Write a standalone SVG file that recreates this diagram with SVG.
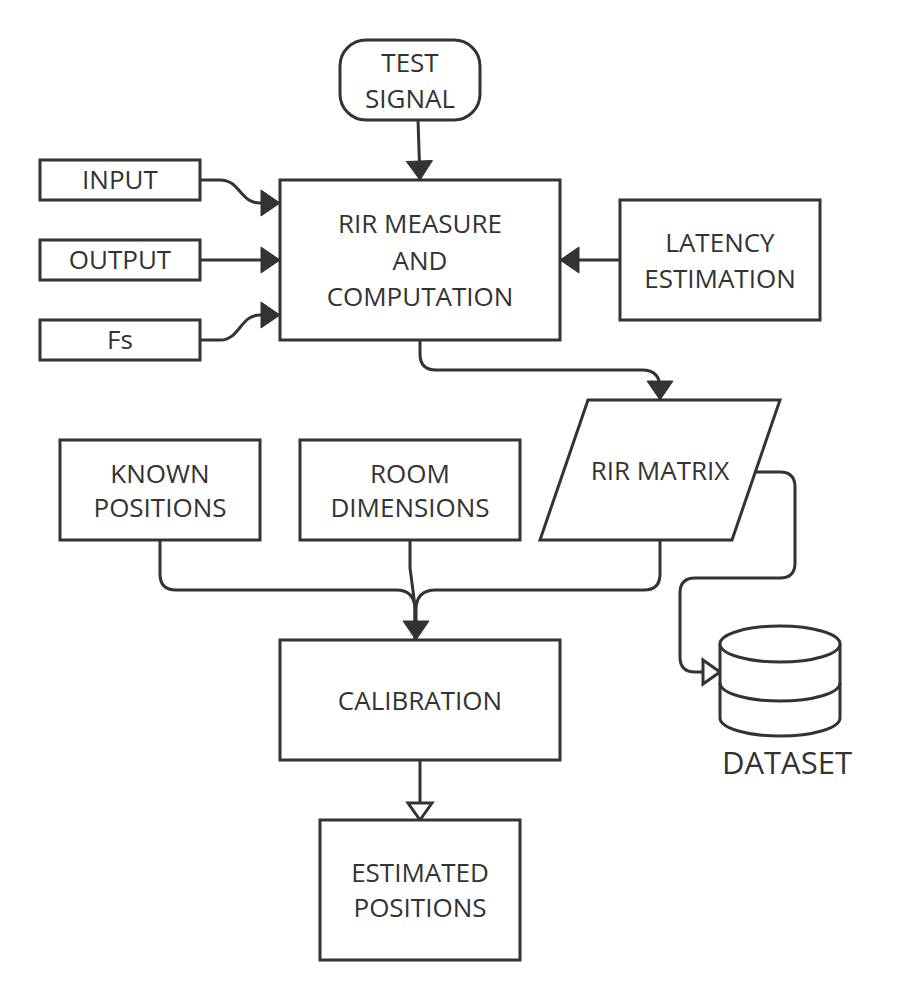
<svg xmlns="http://www.w3.org/2000/svg" width="920" height="1000" viewBox="0 0 920 1000">
<style>
.box{fill:#ffffff;stroke:#333333;stroke-width:3}
.ln{fill:none;stroke:#333333;stroke-width:3}
text{font-family:"Open Sans","Noto Sans","Liberation Sans",sans-serif;font-size:26px;fill:#333333;text-anchor:middle}
</style>
<defs>
<marker id="af" markerUnits="userSpaceOnUse" markerWidth="20" markerHeight="26" refX="19" refY="13" orient="auto" overflow="visible">
<path d="M0,0 L19,13 L0,26 Z" fill="#333333" stroke="#333333" stroke-width="1" stroke-linejoin="round"/>
</marker>
<marker id="ao" markerUnits="userSpaceOnUse" markerWidth="20" markerHeight="26" refX="17" refY="12" orient="auto" overflow="visible">
<path d="M0,0 L17,12 L0,24 Z" fill="#ffffff" stroke="#333333" stroke-width="3" stroke-linejoin="miter"/>
</marker>
</defs>
<rect width="920" height="1000" fill="#ffffff"/>

<g id="connectors">
<path class="ln" d="M200,180 H220 C240,180 240,203 260,203 H280" marker-end="url(#af)"/>
<path class="ln" d="M200,260 H280" marker-end="url(#af)"/>
<path class="ln" d="M200,340 H220 C240,340 240,315 260,315 H280" marker-end="url(#af)"/>
<path class="ln" d="M418,120 L420,180" marker-end="url(#af)"/>
<path class="ln" d="M620,260 H560" marker-end="url(#af)"/>
<path class="ln" d="M420,340 V354 Q420,370 436,370 H642 Q660,370 660,388 V400" marker-end="url(#af)"/>
<path class="ln" d="M756,472 H780 Q795,472 795,487 V563 Q795,578 780,578 H695 Q680,578 680,593 V657 Q680,672 695,672 H720" marker-end="url(#ao)"/>
<path class="ln" d="M160,540 V574 Q160,590 176,590 H396 Q415,590 415,610 V640"/>
<path class="ln" d="M410,540 V568 L415,606 V640"/>
<path class="ln" d="M660,540 V574 Q660,590 644,590 H436 Q416,590 416,610 V640" marker-end="url(#af)"/>
<path class="ln" d="M420,760 V820" marker-end="url(#ao)"/>
</g>

<g id="test-signal">
<rect class="box" x="340" y="40" width="140" height="80" rx="26" ry="26"/>
<text x="410" y="72">TEST</text>
<text x="410" y="108">SIGNAL</text>
</g>
<g id="input">
<rect class="box" x="40" y="160" width="160" height="40"/>
<text x="120" y="189">INPUT</text>
</g>
<g id="output">
<rect class="box" x="40" y="240" width="160" height="40"/>
<text x="120" y="269">OUTPUT</text>
</g>
<g id="fs">
<rect class="box" x="40" y="320" width="160" height="40"/>
<text x="120" y="349">Fs</text>
</g>
<g id="rir-measure">
<rect class="box" x="280" y="180" width="280" height="160"/>
<text x="420" y="233">RIR MEASURE</text>
<text x="420" y="270">AND</text>
<text x="420" y="306">COMPUTATION</text>
</g>
<g id="latency">
<rect class="box" x="620" y="200" width="200" height="120"/>
<text x="720" y="252">LATENCY</text>
<text x="720" y="288">ESTIMATION</text>
</g>
<g id="rir-matrix">
<polygon class="box" points="588,400 780,400 732,540 540,540"/>
<text x="660" y="480">RIR MATRIX</text>
</g>
<g id="known-positions">
<rect class="box" x="60" y="440" width="200" height="100"/>
<text x="160" y="483">KNOWN</text>
<text x="160" y="517">POSITIONS</text>
</g>
<g id="room-dimensions">
<rect class="box" x="300" y="440" width="220" height="100"/>
<text x="410" y="483">ROOM</text>
<text x="410" y="517">DIMENSIONS</text>
</g>
<g id="dataset">
<path class="box" d="M720,644 V718 A60,18 0 0 0 840,718 V644"/>
<ellipse class="box" cx="780" cy="644" rx="60" ry="18"/>
<path class="ln" d="M720,683 A60,18 0 0 0 840,683"/>
<text x="787" y="774" style="font-size:31px">DATASET</text>
</g>
<g id="calibration">
<rect class="box" x="280" y="640" width="280" height="120"/>
<text x="420" y="710">CALIBRATION</text>
</g>
<g id="estimated-positions">
<rect class="box" x="320" y="820" width="200" height="140"/>
<text x="420" y="882">ESTIMATED</text>
<text x="420" y="917">POSITIONS</text>
</g>
</svg>
